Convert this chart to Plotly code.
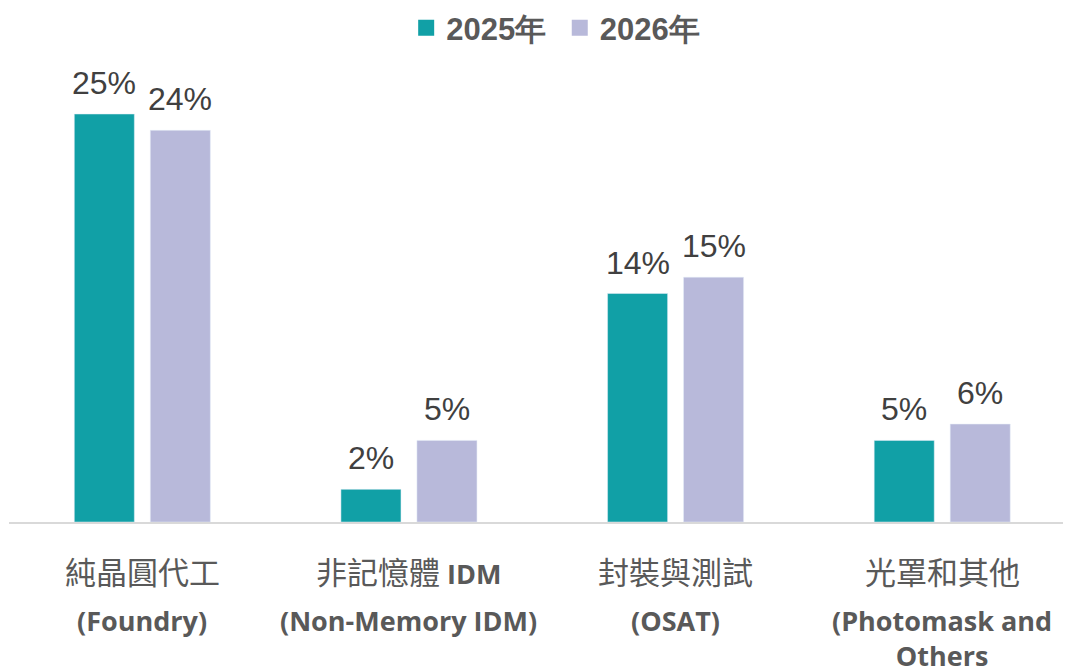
import plotly.graph_objects as go

categories = ["純晶圓代工", "非記憶體 IDM", "封裝與測試", "光罩和其他"]
categories_en = ["(Foundry)", "(Non-Memory IDM)", "(OSAT)", "(Photomask and<br>Others"]
series_names = ["2025年", "2026年"]
values_2025 = [25, 2, 14, 5]
values_2026 = [24, 5, 15, 6]
colors = ["#11A0A6", "#B8B9DA"]

CJK = "Noto Sans CJK TC"
EN = "Open Sans"
LABEL_FONT = "Liberation Sans, Arial"

fig = go.Figure()
xs = list(range(len(categories)))
for name, vals, col in zip(series_names, [values_2025, values_2026], colors):
    fig.add_trace(go.Bar(x=xs, y=vals, name=name, marker_color=col,
                         showlegend=False, hoverinfo="skip"))
    fig.add_trace(go.Scatter(x=[None], y=[None], mode="markers",
                             name=name + "\u00a0",
                             marker=dict(symbol="square", size=16, color=col)))

# data labels
for vals, shift in [(values_2025, -38), (values_2026, 38)]:
    for i, v in enumerate(vals):
        fig.add_annotation(x=i, y=v, xref="x", yref="y", text=f"{v}%",
                           showarrow=False, xshift=shift, yshift=11,
                           yanchor="bottom",
                           font=dict(family=LABEL_FONT, size=32, color="#404040"))

# category labels
def cjk_label(s):
    if "IDM" in s:
        s = s.replace("IDM", f"<b><span style='font-family:{EN};font-size:27px'>IDM</span></b>")
    return s

for i, (zh, en) in enumerate(zip(categories, categories_en)):
    fig.add_annotation(x=i, y=-0.106, xref="x", yref="paper", text=cjk_label(zh),
                       showarrow=False, yanchor="middle",
                       font=dict(family=CJK, size=31, color="#595959"))
    fig.add_annotation(x=i, y=-0.168, xref="x", yref="paper", text=f"<b>{en}</b>",
                       showarrow=False, yanchor="top",
                       font=dict(family=EN, size=27, color="#595959"))

fig.update_layout(
    width=1071, height=669,
    margin=dict(l=1, r=8, t=52, b=155, autoexpand=False),
    paper_bgcolor="white", plot_bgcolor="white",
    barmode="group", bargap=0.43, bargroupgap=0.21,
    legend=dict(orientation="h", x=0.519, xanchor="center", y=1.069, yanchor="middle",
                font=dict(family="Liberation Sans, Arial", size=31, color="#595959",
                          weight="bold"),
                itemwidth=30, tracegroupgap=0),
    xaxis=dict(range=[-0.5, 3.483], showticklabels=False, showgrid=False,
               showline=True, linecolor="#D9D9D9", linewidth=2, zeroline=False,
               fixedrange=True),
    yaxis=dict(range=[0, 28.31], visible=False, fixedrange=True),
)

fig.write_html("out.html")
